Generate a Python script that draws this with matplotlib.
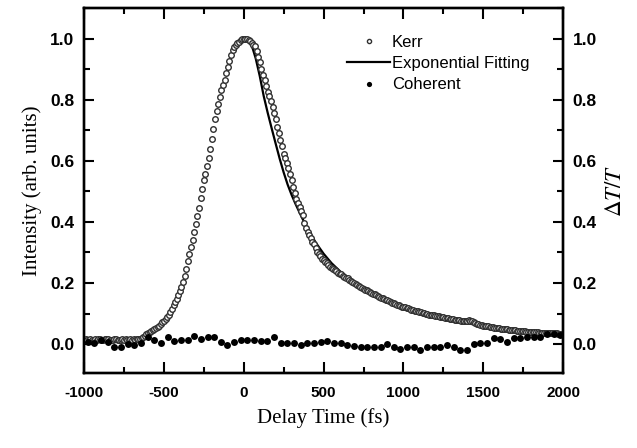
import numpy as np
import matplotlib
matplotlib.use("Agg")
import matplotlib.pyplot as plt
from matplotlib.ticker import MultipleLocator

# Kerr signal, sampled every 10 fs from -1000 to 2000 fs
kerr_t = np.arange(-1000, 2001, 10)
kerr = [
    # -1000 .. -650
    0.015, 0.016, 0.014, 0.015, 0.016, 0.015, 0.014, 0.016, 0.015, 0.017,
    0.016, 0.015, 0.014, 0.016, 0.017, 0.016, 0.015, 0.014, 0.015, 0.016,
    0.017, 0.015, 0.014, 0.015, 0.016, 0.015, 0.016, 0.014, 0.015, 0.016,
    0.015, 0.016, 0.015, 0.016, 0.017, 0.018,
    # -640 .. -300
    0.020, 0.024, 0.028, 0.032, 0.036, 0.039, 0.042, 0.045, 0.049, 0.052,
    0.056, 0.061, 0.066, 0.071, 0.076, 0.081, 0.088, 0.096, 0.104, 0.115,
    0.127, 0.138, 0.148, 0.160, 0.173, 0.186, 0.203, 0.223, 0.246, 0.273,
    0.295, 0.319, 0.341, 0.367, 0.394,
    # -290 .. 0
    0.421, 0.447, 0.477, 0.508, 0.537, 0.557, 0.583, 0.610, 0.640, 0.672,
    0.705, 0.738, 0.763, 0.785, 0.808, 0.832, 0.847, 0.864, 0.886, 0.906,
    0.928, 0.947, 0.962, 0.972, 0.979, 0.985, 0.990, 0.995, 0.998, 1.000,
    # 10 .. 300
    1.000, 0.998, 0.995, 0.991, 0.986, 0.980, 0.975, 0.960, 0.940, 0.922,
    0.900, 0.881, 0.866, 0.845, 0.826, 0.811, 0.797, 0.776, 0.756, 0.738,
    0.711, 0.691, 0.669, 0.650, 0.623, 0.608, 0.594, 0.575, 0.557, 0.538,
    # 310 .. 600
    0.514, 0.496, 0.475, 0.461, 0.448, 0.435, 0.423, 0.397, 0.380, 0.366,
    0.357, 0.346, 0.335, 0.328, 0.315, 0.301, 0.295, 0.288, 0.280, 0.274,
    0.270, 0.265, 0.259, 0.253, 0.250, 0.246, 0.242, 0.238, 0.234, 0.231,
    # 610 .. 1000
    0.228, 0.224, 0.221, 0.218, 0.215, 0.211, 0.208, 0.204, 0.201, 0.197,
    0.194, 0.190, 0.187, 0.184, 0.181, 0.178, 0.176, 0.173, 0.170, 0.168,
    0.165, 0.163, 0.160, 0.157, 0.155, 0.152, 0.150, 0.148, 0.146, 0.143,
    0.140, 0.138, 0.136, 0.134, 0.131, 0.129, 0.127, 0.125, 0.123, 0.121,
    # 1010 .. 1400
    0.120, 0.118, 0.117, 0.115, 0.113, 0.111, 0.110, 0.108, 0.107, 0.106,
    0.105, 0.103, 0.101, 0.099, 0.098, 0.097, 0.096, 0.095, 0.094, 0.093,
    0.092, 0.091, 0.090, 0.089, 0.088, 0.087, 0.086, 0.085, 0.083, 0.082,
    0.081, 0.080, 0.079, 0.078, 0.078, 0.077, 0.077, 0.077, 0.076, 0.077,
    # 1410 .. 1800
    0.078, 0.077, 0.075, 0.073, 0.070, 0.067, 0.065, 0.063, 0.062, 0.061,
    0.060, 0.059, 0.058, 0.057, 0.056, 0.055, 0.054, 0.053, 0.053, 0.052,
    0.051, 0.050, 0.049, 0.049, 0.048, 0.047, 0.046, 0.046, 0.045, 0.045,
    0.044, 0.044, 0.043, 0.043, 0.042, 0.042, 0.041, 0.041, 0.040, 0.040,
    # 1810 .. 2000
    0.040, 0.039, 0.039, 0.039, 0.038, 0.038, 0.038, 0.037, 0.037, 0.037,
    0.036, 0.036, 0.036, 0.035, 0.035, 0.035, 0.034, 0.034, 0.034, 0.033,
]

# exponential fit curve
fit_t = [10, 25, 50, 75, 100, 125, 150, 175, 200, 225, 250, 275, 300, 325,
         350, 375, 400, 450, 500, 550, 600, 650, 700, 750, 800, 850, 900,
         950, 1000, 1100, 1200, 1300, 1400, 1500, 1600, 1700, 1800, 1900, 2000]
fit = [1.000, 0.992, 0.978, 0.935, 0.878, 0.812, 0.757, 0.706, 0.656, 0.607,
       0.562, 0.522, 0.488, 0.458, 0.430, 0.403, 0.378, 0.333, 0.296, 0.265,
       0.240, 0.218, 0.198, 0.181, 0.166, 0.152, 0.140, 0.129, 0.119, 0.103,
       0.089, 0.078, 0.068, 0.060, 0.053, 0.047, 0.042, 0.038, 0.035]

# coherent signal
coh_t = np.arange(-977, 2000, 41.67)
coh = [
    0.008, 0.003, 0.014, 0.008, -0.008, -0.008, 0.000, -0.003, 0.005, 0.024,
    0.015, 0.003, 0.022, 0.011, 0.014, 0.015, 0.026, 0.018, 0.024, 0.022,
    0.008, -0.003, 0.008, 0.015, 0.014, 0.015, 0.011, 0.011, 0.022, 0.005,
    0.005, 0.003, -0.003, 0.005, 0.005, 0.008, 0.009, 0.005, 0.005, -0.003,
    -0.005, -0.008, -0.008, -0.008, -0.008, 0.000, -0.010, -0.016, -0.010, -0.010,
    -0.018, -0.010, -0.009, -0.010, -0.004, -0.010, -0.018, -0.018, 0.000, 0.003,
    0.003, 0.020, 0.017, 0.007, 0.020, 0.020, 0.025, 0.022, 0.025, 0.033,
    0.033, 0.030,
]

plt.rcParams["font.family"] = ["Liberation Sans", "DejaVu Sans"]
plt.rcParams["mathtext.fontset"] = "stix"

fig = plt.figure(figsize=(6.37, 4.48), dpi=100)
ax = fig.add_axes([0.132, 0.167, 0.752, 0.815])

ax.plot(kerr_t, kerr, "o", ms=4.0, mfc="white", mec="#303030", mew=1.0,
        label="Kerr", zorder=3)
ax.plot(fit_t, fit, "-", color="black", lw=1.6, label="Exponential Fitting",
        zorder=2)
ax.plot(coh_t[:len(coh)], coh, "o", ms=5.0, color="black", mew=0,
        label="Coherent", zorder=3)

ax.set_xlim(-1000, 2000)
ax.set_ylim(-0.095, 1.1)
ax.xaxis.set_major_locator(MultipleLocator(500))
ax.xaxis.set_minor_locator(MultipleLocator(250))
ax.yaxis.set_major_locator(MultipleLocator(0.2))
ax.yaxis.set_minor_locator(MultipleLocator(0.1))

ax2 = ax.twinx()
ax2.set_ylim(ax.get_ylim())
ax2.yaxis.set_major_locator(MultipleLocator(0.2))
ax2.yaxis.set_minor_locator(MultipleLocator(0.1))

for a in (ax, ax2):
    for s in a.spines.values():
        s.set_linewidth(1.7)
    a.tick_params(which="major", direction="in", length=7.5, width=1.5,
                  labelsize=12.5, pad=7)
    a.tick_params(which="minor", direction="in", length=4.5, width=1.5)
ax.tick_params(which="both", top=True)
ax.tick_params(axis="x", which="major", length=8, pad=9, labelsize=11)
ax.tick_params(axis="x", which="minor", length=4.5)

for lab in ax.get_xticklabels() + ax.get_yticklabels() + ax2.get_yticklabels():
    lab.set_fontweight("bold")
ax.xaxis.set_major_formatter(matplotlib.ticker.FuncFormatter(lambda v, p: f"{v:.0f}"))
ax.yaxis.set_major_formatter(matplotlib.ticker.FormatStrFormatter("%.1f"))
ax2.yaxis.set_major_formatter(matplotlib.ticker.FormatStrFormatter("%.1f"))

ax.set_xlabel("Delay Time (fs)", family="Liberation Serif", fontsize=15,
              labelpad=6)
ax.set_ylabel("Intensity (arb. units)", family="Liberation Serif",
              fontsize=15, labelpad=6)
ax2.set_ylabel(r"$\Delta T/T$", fontsize=16.5, labelpad=4)

ax.legend(loc="upper left", bbox_to_anchor=(0.535, 0.945), frameon=False,
          fontsize=12, handlelength=2.6, handletextpad=0.1,
          labelspacing=0.38, markerscale=0.75, borderaxespad=0)

fig.savefig("out.png", dpi=100)
